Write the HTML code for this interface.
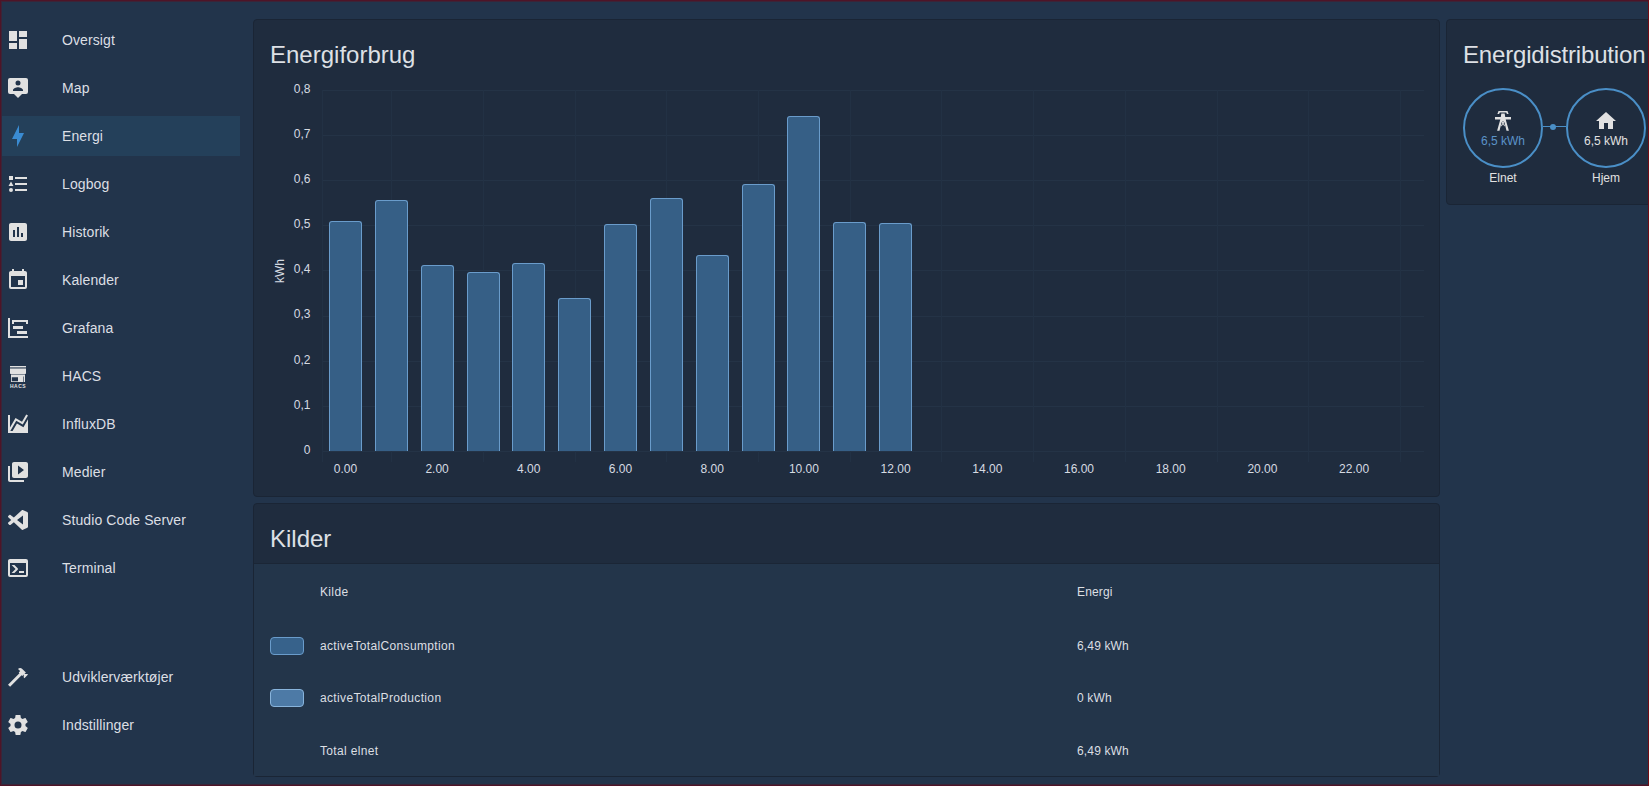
<!DOCTYPE html>
<html><head><meta charset="utf-8">
<style>
*{margin:0;padding:0;box-sizing:border-box}
html,body{width:1649px;height:786px;overflow:hidden;background:#22344b;font-family:"Liberation Sans",sans-serif;color:#e1e1e1}
.frame{position:absolute;left:0;top:0;width:1649px;height:786px;border:1px solid #4e1427;border-right-color:#740c12;pointer-events:none;z-index:50}
.frame2{position:absolute;left:1px;top:1px;width:1647px;height:784px;border:1px solid #3b2438;border-right:none;pointer-events:none;z-index:49}
.nav{position:absolute;left:0;width:240px;height:40px;line-height:40px;font-size:14px;color:#dcdfe4;letter-spacing:0.1px}
.nav .t{position:absolute;left:62px;top:0}
.nav svg{position:absolute;left:6px;top:8px;width:24px;height:24px;fill:#e1e1e1}
.nav.sel{background:#24405a;left:2px;width:238px}
.nav.sel svg{left:4px}
.nav.sel .t{left:60px}
.nav.sel svg{fill:#3a8bd2}
.card{position:absolute;background:#1f2c3e;border:1px solid #1a2535;border-radius:4px;overflow:hidden}
.title{position:absolute;font-size:24px;color:#dde0e5;line-height:28px}
.ax{position:absolute;font-size:12px;color:#d6dbe2;line-height:14px;white-space:nowrap}
.bar{position:absolute;background:#365f86;border:1px solid #6a9ccb;border-bottom:none;border-radius:3px 3px 0 0}
.gh{position:absolute;left:322px;width:1102px;height:1px;background:#243346}
.gv{position:absolute;top:90px;width:1px;height:372px;background:#223144}
.tbl{position:absolute;font-size:12px;color:#dcdfe3;letter-spacing:0.35px;line-height:14px;white-space:nowrap}
</style></head><body>
<div class="frame"></div><div class="frame2"></div>

<!-- SIDEBAR -->
<div id="sidebar">
<div class="nav" style="top:20px"><svg viewBox="0 0 24 24"><path d="M13,3V9H21V3M13,21H21V11H13M3,21H11V15H3M3,13H11V3H3V13Z"/></svg><span class="t">Oversigt</span></div>
<div class="nav" style="top:68px"><svg viewBox="0 0 24 24"><path d="M4 2H20A2 2 0 0 1 22 4V16A2 2 0 0 1 20 18H16L12 22L8 18H4A2 2 0 0 1 2 16V4A2 2 0 0 1 4 2M12 4.5A2.5 2.5 0 0 0 9.5 7A2.5 2.5 0 0 0 12 9.5A2.5 2.5 0 0 0 14.5 7A2.5 2.5 0 0 0 12 4.5M17 15V14C17 12.3 13.7 11.2 12 11.2C10.3 11.2 7 12.3 7 14V15H17Z"/></svg><span class="t">Map</span></div>
<div class="nav sel" style="top:116px"><svg viewBox="0 0 24 24"><path d="M11 15H6L13 1V9H18L11 23V15Z"/></svg><span class="t">Energi</span></div>
<div class="nav" style="top:164px"><svg viewBox="0 0 24 24"><path d="M5,9.5L7.5,14H2.5L5,9.5M3,4H7V8H3V4M5,20A2,2 0 0,0 7,18A2,2 0 0,0 5,16A2,2 0 0,0 3,18A2,2 0 0,0 5,20M9,5V7H21V5H9M9,19H21V17H9V19M9,13H21V11H9V13Z"/></svg><span class="t">Logbog</span></div>
<div class="nav" style="top:212px"><svg viewBox="0 0 24 24"><path d="M19 3H5C3.9 3 3 3.9 3 5V19C3 20.1 3.9 21 5 21H19C20.1 21 21 20.1 21 19V5C21 3.9 20.1 3 19 3M9 17H7V10H9V17M13 17H11V7H13V17M17 17H15V13H17V17Z"/></svg><span class="t">Historik</span></div>
<div class="nav" style="top:260px"><svg viewBox="0 0 24 24"><path d="M19,19H5V8H19M16,1V3H8V1H6V3H5C3.89,3 3,3.89 3,5V19A2,2 0 0,0 5,21H19A2,2 0 0,0 21,19V5C21,3.89 20.1,3 19,3H18V1M17,12H12V17H17V12Z"/></svg><span class="t">Kalender</span></div>
<div class="nav" style="top:308px"><svg viewBox="0 0 24 24"><path d="M2,2H4V20H22V22H2V2M7,10H17V13H7V10M11,15H21V18H11V15M6,4H22V8H20V6H8V8H6V4Z"/></svg><span class="t">Grafana</span></div>
<div class="nav" style="top:356px"><svg viewBox="0 0 24 24"><path d="M4 2H20V3.4H4Z"/><path d="M4 4.4H20V9C20 9.6 19.6 10 19 10H5C4.4 10 4 9.6 4 9Z"/><path fill-rule="evenodd" d="M5 10.6H19V18H5ZM5.8 13.2H12V17.2H5.8ZM17.4 12.4H18V18H17.4Z"/><text x="12" y="23.6" font-size="5" font-weight="bold" text-anchor="middle" letter-spacing="0.5" font-family="Liberation Sans">HACS</text></svg><span class="t">HACS</span></div>
<div class="nav" style="top:404px"><svg viewBox="0 0 24 24"><path d="M17.45,15.18L22,7.31V19L22,21H2V3H4V15.54L9.5,6L16,9.78L20.24,2.45L21.97,3.45L16.74,12.5L10.23,8.75L4.31,19H6.57L10.96,11.44L17.45,15.18Z"/></svg><span class="t">InfluxDB</span></div>
<div class="nav" style="top:452px"><svg viewBox="0 0 24 24"><path d="M4 6H2V20C2 21.1 2.9 22 4 22H18V20H4V6M20 2H8C6.9 2 6 2.9 6 4V16C6 17.1 6.9 18 8 18H20C21.1 18 22 17.1 22 16V4C22 2.9 21.1 2 20 2M12 14.5V5.5L18 10L12 14.5Z"/></svg><span class="t">Medier</span></div>
<div class="nav" style="top:500px"><svg viewBox="0 0 24 24"><path d="M17,16.47V7.39L11,11.93M2.22,9.19C1.92,8.87 1.91,8.37 2.2,8.04L3.4,6.93C3.6,6.75 4.09,6.67 4.45,6.93L7.87,9.54L15.79,2.3C16.11,1.98 16.66,1.84 17.29,2.17L21.29,4.08C21.65,4.29 22,4.62 22,5.23V18.73C22,19.13 21.71,19.56 21.4,19.72L17,21.83C16.68,21.96 16.08,21.84 15.87,21.63L7.86,14.33L4.45,16.92C4.07,17.18 3.6,17.11 3.4,16.92L2.2,15.82C1.88,15.49 1.92,14.95 2.25,14.62L5.25,11.93Z"/></svg><span class="t">Studio Code Server</span></div>
<div class="nav" style="top:548px"><svg viewBox="0 0 24 24"><path d="M20,19V7H4V19H20M20,3A2,2 0 0,1 22,5V19A2,2 0 0,1 20,21H4A2,2 0 0,1 2,19V5C2,3.89 2.9,3 4,3H20M13,17V15H18V17H13M9.58,13L5.57,9H8.4L11.7,12.3C12.09,12.69 12.09,13.33 11.7,13.72L8.42,17H5.59L9.58,13Z"/></svg><span class="t">Terminal</span></div>
<div class="nav" style="top:657px"><svg viewBox="0 0 24 24"><path d="M2 19.63L13.43 8.2L12.72 7.5L14.14 6.07L12 3.89C13.2 2.7 15.09 2.7 16.27 3.89L19.87 7.5L18.45 8.91H21.29L22 9.62L18.45 13.21L17.74 12.5V9.62L16.27 11.04L15.56 10.33L4.13 21.76L2 19.63Z"/></svg><span class="t">Udviklerværktøjer</span></div>
<div class="nav" style="top:705px"><svg viewBox="0 0 24 24"><path d="M12,15.5A3.5,3.5 0 0,1 8.5,12A3.5,3.5 0 0,1 12,8.5A3.5,3.5 0 0,1 15.5,12A3.5,3.5 0 0,1 12,15.5M19.43,12.97C19.47,12.65 19.5,12.33 19.5,12C19.5,11.67 19.47,11.34 19.43,11L21.54,9.37C21.73,9.22 21.78,8.95 21.66,8.73L19.66,5.27C19.54,5.05 19.27,4.96 19.05,5.05L16.56,6.05C16.04,5.66 15.5,5.32 14.87,5.07L14.5,2.42C14.46,2.18 14.25,2 14,2H10C9.75,2 9.54,2.18 9.5,2.42L9.13,5.07C8.5,5.32 7.96,5.66 7.44,6.05L4.95,5.05C4.73,4.96 4.46,5.05 4.34,5.27L2.34,8.73C2.21,8.95 2.27,9.22 2.46,9.37L4.57,11C4.53,11.34 4.5,11.67 4.5,12C4.5,12.33 4.53,12.65 4.57,12.97L2.46,14.63C2.27,14.78 2.21,15.05 2.34,15.27L4.34,18.73C4.46,18.95 4.73,19.03 4.95,18.95L7.44,17.94C7.96,18.34 8.5,18.68 9.13,18.93L9.5,21.58C9.54,21.82 9.75,22 10,22H14C14.25,22 14.46,21.82 14.5,21.58L14.87,18.93C15.5,18.67 16.04,18.34 16.56,17.94L19.05,18.95C19.27,19.03 19.54,18.95 19.66,18.73L21.66,15.27C21.78,15.05 21.73,14.78 21.54,14.63L19.43,12.97Z"/></svg><span class="t">Indstillinger</span></div>
</div>

<!-- CARD 1 -->
<div class="card" style="left:253px;top:19px;width:1187px;height:478px"></div>
<div class="title" style="left:270px;top:41px">Energiforbrug</div>
<div class="gh" style="top:451px"></div>
<div class="gh" style="top:406px"></div>
<div class="gh" style="top:361px"></div>
<div class="gh" style="top:316px"></div>
<div class="gh" style="top:270px"></div>
<div class="gh" style="top:225px"></div>
<div class="gh" style="top:180px"></div>
<div class="gh" style="top:135px"></div>
<div class="gh" style="top:90px"></div>
<div class="gv" style="left:391px"></div>
<div class="gv" style="left:483px"></div>
<div class="gv" style="left:575px"></div>
<div class="gv" style="left:666px"></div>
<div class="gv" style="left:758px"></div>
<div class="gv" style="left:850px"></div>
<div class="gv" style="left:941px"></div>
<div class="gv" style="left:1033px"></div>
<div class="gv" style="left:1125px"></div>
<div class="gv" style="left:1217px"></div>
<div class="gv" style="left:1308px"></div>
<div class="gv" style="left:1400px"></div>
<div class="gv" style="left:322px"></div>
<div class="ax" style="right:1338.6px;top:443px">0</div>
<div class="ax" style="right:1338.6px;top:398px">0,1</div>
<div class="ax" style="right:1338.6px;top:353px">0,2</div>
<div class="ax" style="right:1338.6px;top:307px">0,3</div>
<div class="ax" style="right:1338.6px;top:262px">0,4</div>
<div class="ax" style="right:1338.6px;top:217px">0,5</div>
<div class="ax" style="right:1338.6px;top:172px">0,6</div>
<div class="ax" style="right:1338.6px;top:127px">0,7</div>
<div class="ax" style="right:1338.6px;top:82px">0,8</div>
<div class="ax" style="left:273px;top:264px;transform:rotate(-90deg);transform-origin:left top;top:283px">kWh</div>
<div class="ax" style="left:305.4px;width:80px;text-align:center;top:462px">0.00</div>
<div class="ax" style="left:397.1px;width:80px;text-align:center;top:462px">2.00</div>
<div class="ax" style="left:488.8px;width:80px;text-align:center;top:462px">4.00</div>
<div class="ax" style="left:580.5px;width:80px;text-align:center;top:462px">6.00</div>
<div class="ax" style="left:672.2px;width:80px;text-align:center;top:462px">8.00</div>
<div class="ax" style="left:763.9px;width:80px;text-align:center;top:462px">10.00</div>
<div class="ax" style="left:855.6px;width:80px;text-align:center;top:462px">12.00</div>
<div class="ax" style="left:947.3px;width:80px;text-align:center;top:462px">14.00</div>
<div class="ax" style="left:1039.0px;width:80px;text-align:center;top:462px">16.00</div>
<div class="ax" style="left:1130.7px;width:80px;text-align:center;top:462px">18.00</div>
<div class="ax" style="left:1222.4px;width:80px;text-align:center;top:462px">20.00</div>
<div class="ax" style="left:1314.1px;width:80px;text-align:center;top:462px">22.00</div>
<div class="bar" style="left:328.9px;top:221.0px;width:33px;height:230.0px"></div>
<div class="bar" style="left:374.8px;top:200.0px;width:33px;height:251.0px"></div>
<div class="bar" style="left:420.6px;top:264.6px;width:33px;height:186.4px"></div>
<div class="bar" style="left:466.5px;top:272.2px;width:33px;height:178.8px"></div>
<div class="bar" style="left:512.3px;top:263.1px;width:33px;height:187.9px"></div>
<div class="bar" style="left:558.2px;top:297.9px;width:33px;height:153.1px"></div>
<div class="bar" style="left:604.0px;top:224.2px;width:33px;height:226.8px"></div>
<div class="bar" style="left:649.9px;top:197.6px;width:33px;height:253.4px"></div>
<div class="bar" style="left:695.7px;top:255.0px;width:33px;height:196.0px"></div>
<div class="bar" style="left:741.6px;top:184.0px;width:33px;height:267.0px"></div>
<div class="bar" style="left:787.4px;top:115.8px;width:33px;height:335.2px"></div>
<div class="bar" style="left:833.3px;top:221.7px;width:33px;height:229.3px"></div>
<div class="bar" style="left:879.1px;top:222.8px;width:33px;height:228.2px"></div>

<!-- CARD 2 -->
<div class="card" style="left:253px;top:503px;width:1187px;height:274px"></div>
<div class="title" style="left:270px;top:525px">Kilder</div>
<div style="position:absolute;left:254px;top:563px;width:1185px;height:1px;background:#1b2636"></div>
<div style="position:absolute;left:254px;top:564px;width:1185px;height:212px;background:#23354a"></div>
<div class="tbl" style="left:320px;top:585px">Kilde</div>
<div class="tbl" style="left:1077px;top:585px;letter-spacing:0.15px">Energi</div>
<div style="position:absolute;left:270px;top:637px;width:34px;height:18px;border-radius:4px;background:#37628b;border:1px solid #6a9ccb"></div>
<div class="tbl" style="left:320px;top:639px">activeTotalConsumption</div>
<div class="tbl" style="left:1077px;top:639px;letter-spacing:0.15px">6,49 kWh</div>
<div style="position:absolute;left:270px;top:689px;width:34px;height:18px;border-radius:4px;background:#4d7aa6;border:1px solid #88b4dc"></div>
<div class="tbl" style="left:320px;top:691px">activeTotalProduction</div>
<div class="tbl" style="left:1077px;top:691px;letter-spacing:0.15px">0 kWh</div>
<div class="tbl" style="left:320px;top:744px">Total elnet</div>
<div class="tbl" style="left:1077px;top:744px;letter-spacing:0.15px">6,49 kWh</div>

<!-- CARD 3 -->
<div class="card" style="left:1446px;top:19px;width:220px;height:186px"></div>
<div class="title" style="left:1463px;top:41px;letter-spacing:-0.17px">Energidistribution</div>
<div style="position:absolute;left:1463px;top:88px;width:80px;height:80px;border-radius:50%;border:2px solid #4a8fc7"></div>
<div style="position:absolute;left:1566px;top:88px;width:80px;height:80px;border-radius:50%;border:2px solid #4a8fc7"></div>
<div style="position:absolute;left:1543px;top:126px;width:23px;height:1px;background:#4a8fc7"></div>
<div style="position:absolute;left:1550px;top:124px;width:6px;height:6px;border-radius:50%;background:#4a8fc7"></div>
<svg style="position:absolute;left:1491px;top:109px;width:24px;height:24px;fill:#e1e1e1" viewBox="0 0 24 24"><path d="M6.4,4.9L7.5,2H16.5L17.6,4.9H15.9L15.2,3.5H8.8L8.1,4.9Z M10.3,4.4H13.7L14.2,8H9.8Z M4,8H20V10.4H4Z M9.3,10.4H11.3L8.5,21.8H6.1Z M12.7,10.4H14.7L17.9,21.8H15.5Z M9.3,10.4H14.7L15.1,11.9H8.9Z M10.1,11.9H11.4L13.9,16.6L13.4,17.6Z M12.6,11.9H13.9L10.6,17.6L10.1,16.6Z"/></svg>
<div class="ax" style="left:1463px;width:80px;text-align:center;top:134px;color:#5b93c9">6,5 kWh</div>
<svg style="position:absolute;left:1594px;top:109px;width:24px;height:24px;fill:#e1e1e1" viewBox="0 0 24 24"><path d="M10,20V14H14V20H19V12H22L12,3L2,12H5V20H10Z"/></svg>
<div class="ax" style="left:1566px;width:80px;text-align:center;top:134px;color:#e1e1e1">6,5 kWh</div>
<div class="ax" style="left:1463px;width:80px;text-align:center;top:171px;color:#e1e1e1">Elnet</div>
<div class="ax" style="left:1566px;width:80px;text-align:center;top:171px;color:#e1e1e1">Hjem</div>

</body></html>
